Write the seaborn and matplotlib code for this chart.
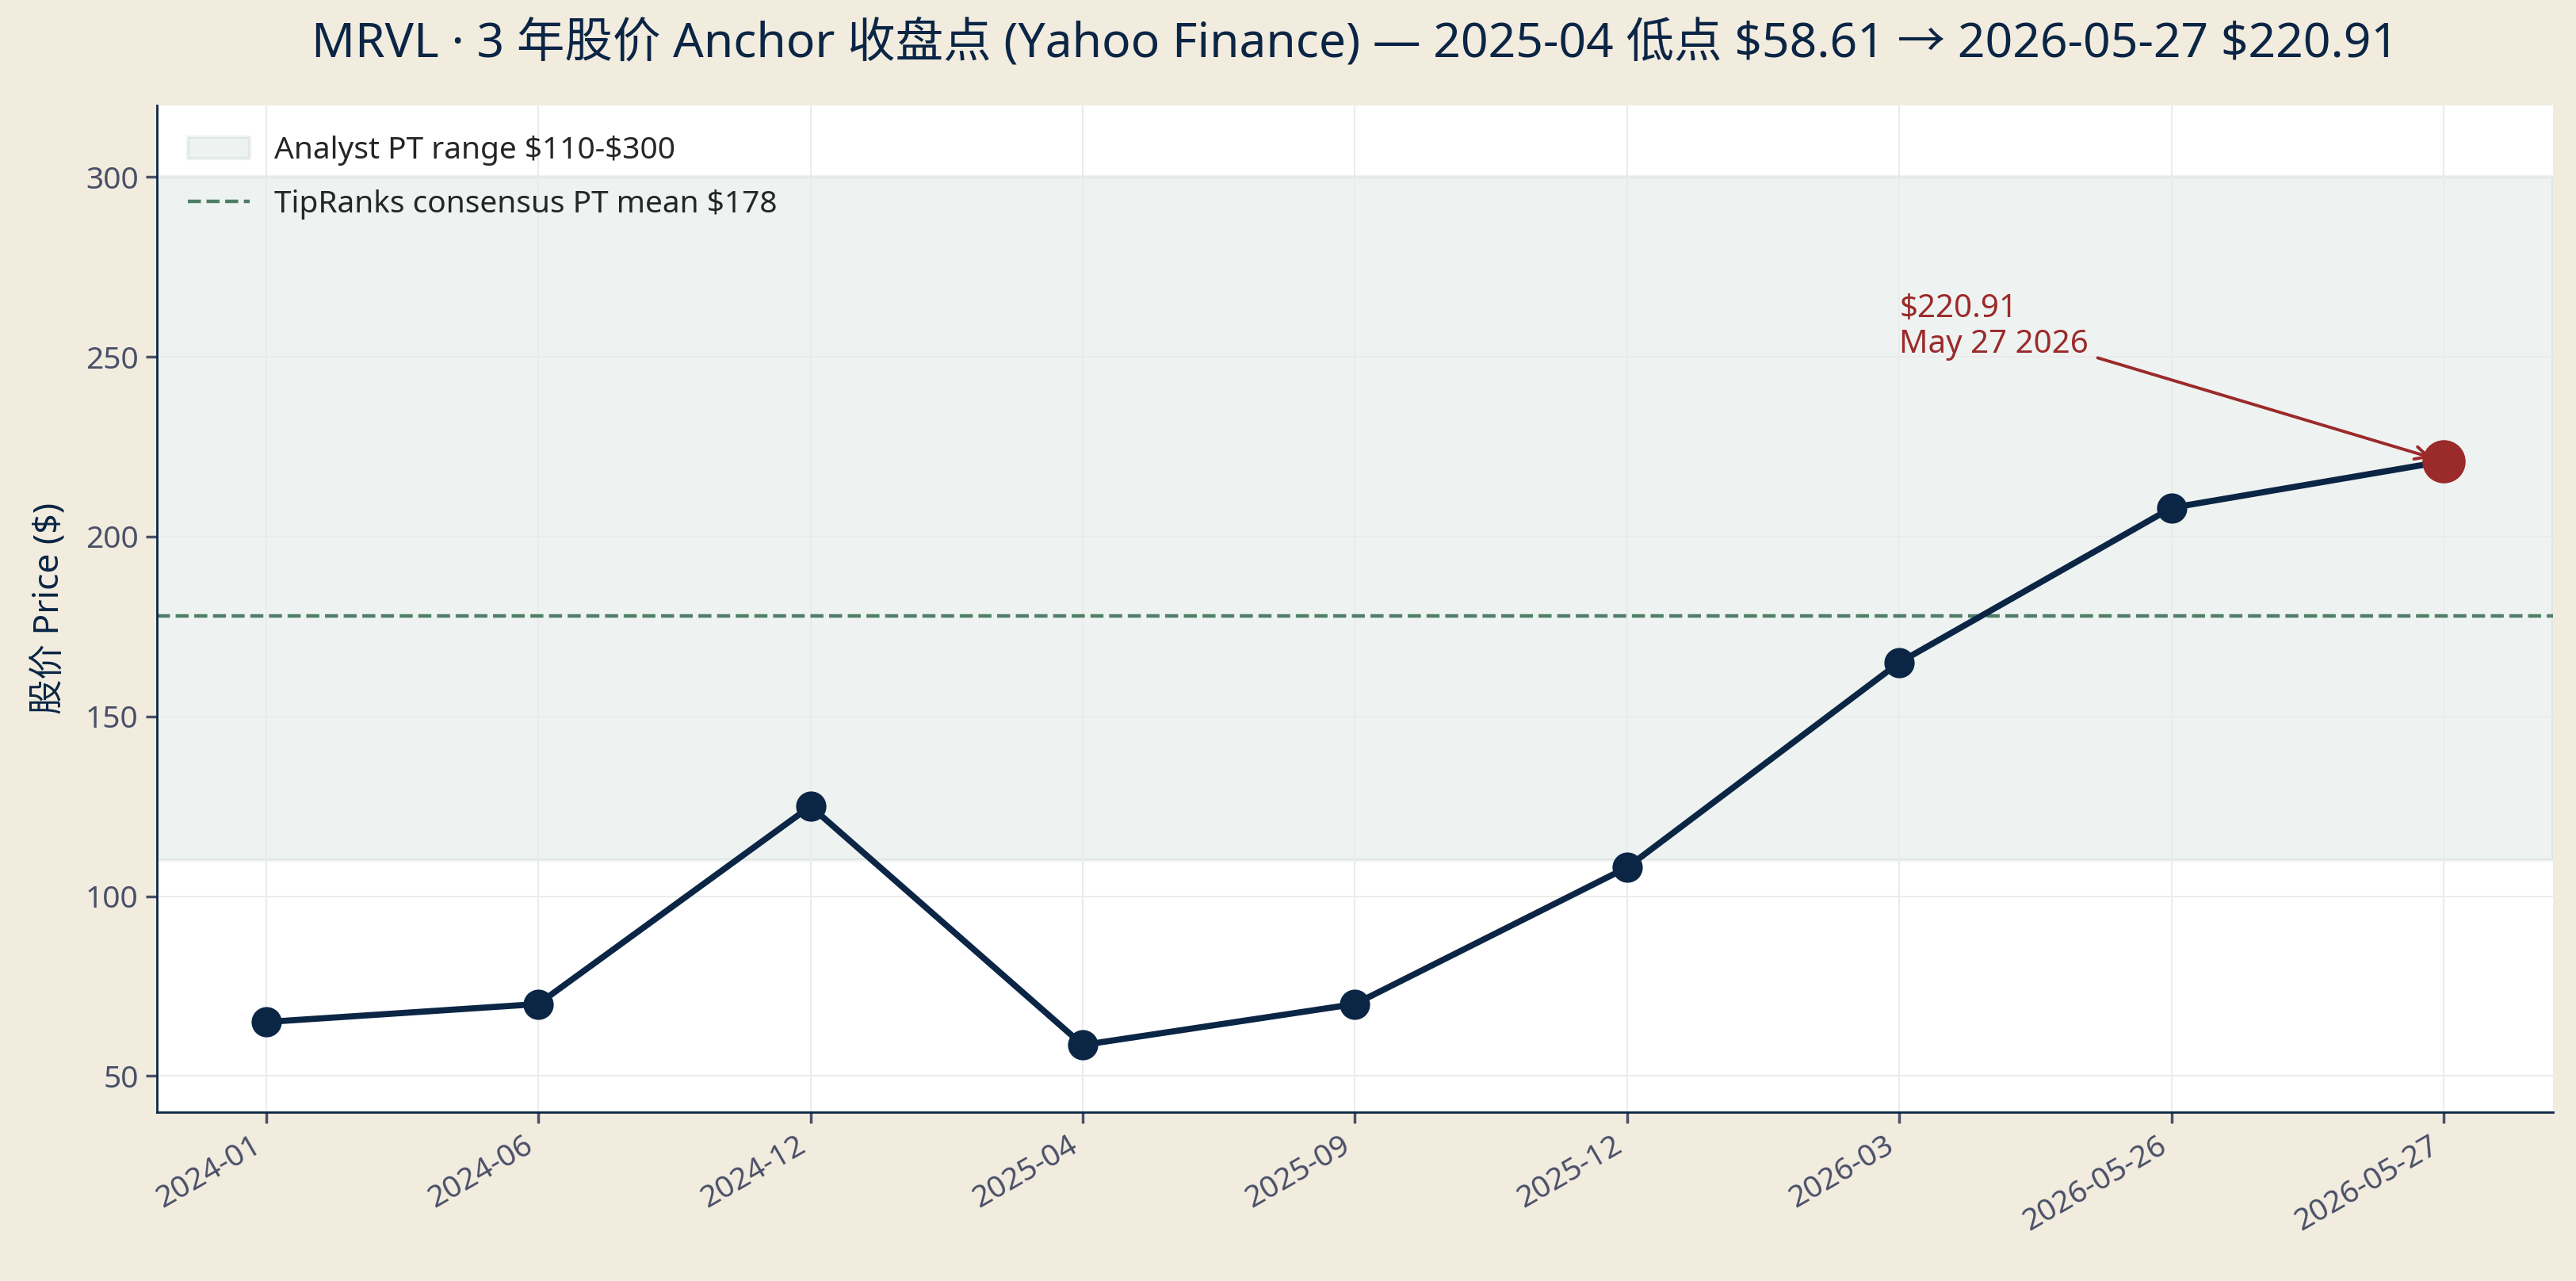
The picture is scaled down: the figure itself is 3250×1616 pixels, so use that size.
import matplotlib
matplotlib.use("Agg")
import matplotlib.pyplot as plt
import seaborn as sns
import pandas as pd

# dados
dates = ["2024-01", "2024-06", "2024-12", "2025-04", "2025-09",
         "2025-12", "2026-03", "2026-05-26", "2026-05-27"]
prices = [65.0, 70.0, 125.0, 58.61, 70.0, 108.0, 165.0, 208.0, 220.91]
pt_low, pt_high = 110, 300
pt_mean = 178
last_label = r"\$220.91" + "\nMay 27 2026"

df = pd.DataFrame({"date": dates, "price": prices})

sns.set_theme(style="whitegrid")
plt.rcParams["font.family"] = ["Noto Sans", "Noto Sans CJK SC", "DejaVu Sans"]

navy = "#0B2545"
red = "#9B2A2A"
green = "#4E7F66"
bg = "#F2ECDF"

fig, ax = plt.subplots(figsize=(16.25, 8.08), dpi=200)
fig.patch.set_facecolor(bg)
ax.set_facecolor("white")

ax.axhspan(pt_low, pt_high, color="#2E6B4F", alpha=0.08, lw=1.5,
           label=rf"Analyst PT range \${pt_low}-\${pt_high}", zorder=0)
ax.axhline(pt_mean, color=green, ls="--", lw=1.6,
           label=rf"TipRanks consensus PT mean \${pt_mean}", zorder=1)

sns.lineplot(data=df, x="date", y="price", ax=ax, color=navy, lw=2.8,
             marker="o", markersize=13, markeredgecolor=navy, sort=False, zorder=3)
last = df.iloc[[-1]]
sns.scatterplot(data=last, x="date", y="price", ax=ax, color=red, s=330,
                edgecolor=red, zorder=4, legend=False)

ax.annotate(last_label, xy=(len(dates) - 1, prices[-1]),
            xytext=(6, 249), textcoords="data", color=red, fontsize=14.5,
            ha="left", va="bottom", linespacing=1.15,
            arrowprops=dict(arrowstyle="->", color=red, lw=1.4, shrinkA=2, shrinkB=6))

ax.set_xlim(-0.4, len(dates) - 0.6)
ax.set_ylim(40, 320)
ax.set_xlabel("")
ax.set_ylabel(r"股价 Price (\$)", fontsize=16, color=navy, labelpad=8)
ax.set_title(r"MRVL · 3 年股价 Anchor 收盘点 (Yahoo Finance) — 2025-04 低点 \$58.61 → 2026-05-27 \$220.91",
             fontsize=21.8, color=navy, pad=22)

ax.grid(True, color="#EBEBEB", lw=0.7)
for s in ["top", "right"]:
    ax.spines[s].set_visible(False)
for s in ["left", "bottom"]:
    ax.spines[s].set_color(navy)
    ax.spines[s].set_linewidth(1.0)
ax.tick_params(axis="both", colors="#4A5068", labelsize=14, length=5,
               bottom=True, left=True)
plt.setp(ax.get_xticklabels(), rotation=30, ha="right")

ax.legend(loc="upper left", frameon=False, fontsize=14, handlelength=2.0,
          labelspacing=0.75, borderaxespad=0.6)

plt.subplots_adjust(left=0.061, right=0.991, top=0.918, bottom=0.132)
plt.savefig("out.png", dpi=200, facecolor=bg)
